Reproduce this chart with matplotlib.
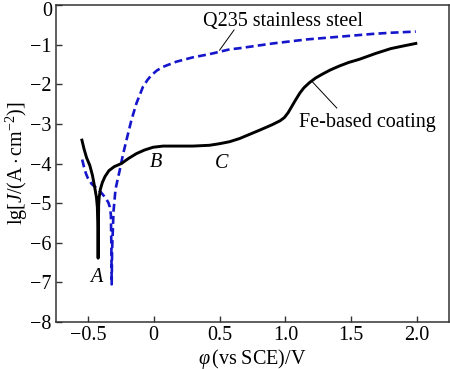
import matplotlib
matplotlib.use('Agg')
import matplotlib.pyplot as plt
from matplotlib.transforms import ScaledTranslation

plt.rcParams['font.family'] = ['Liberation Serif', 'DejaVu Serif']
plt.rcParams['mathtext.fontset'] = 'custom'
plt.rcParams['mathtext.rm'] = 'Liberation Serif'
plt.rcParams['mathtext.it'] = 'Liberation Serif:italic'

# Fe-based coating (potential V, lg J)
coat_x = [-0.545, -0.53, -0.51, -0.485, -0.465, -0.447, -0.435, -0.428, -0.424, -0.422,
          -0.420, -0.418, -0.414, -0.405, -0.39, -0.37, -0.34, -0.30, -0.245, -0.19,
          -0.131, -0.07, -0.005, 0.071, 0.18, 0.298, 0.424, 0.50, 0.576, 0.652,
          0.803, 0.90, 0.96, 0.992, 1.02, 1.05, 1.08, 1.11, 1.14, 1.182,
          1.23, 1.283, 1.34, 1.409, 1.48, 1.561, 1.687, 1.80, 1.90, 1.99]
coat_y = [-3.41, -3.62, -3.85, -4.05, -4.30, -4.62, -4.85, -5.10, -5.6, -6.39,
          -5.6, -5.05, -4.85, -4.65, -4.48, -4.33, -4.18, -4.08, -4.0, -3.87,
          -3.75, -3.66, -3.59, -3.56, -3.56, -3.56, -3.54, -3.50, -3.45, -3.37,
          -3.16, -3.02, -2.92, -2.84, -2.72, -2.55, -2.38, -2.22, -2.09, -1.96,
          -1.84, -1.74, -1.64, -1.54, -1.45, -1.37, -1.22, -1.10, -1.03, -0.97]

# Q235 stainless steel
q235_x = [-0.543, -0.53, -0.515, -0.50, -0.47, -0.434, -0.40, -0.37, -0.345, -0.333,
          -0.325, -0.321, -0.319, -0.316, -0.305, -0.29, -0.275, -0.258, -0.235, -0.207,
          -0.169, -0.131, -0.081, -0.045, -0.017, 0.025, 0.071, 0.172, 0.298, 0.424,
          0.50, 0.576, 0.652, 0.904, 1.157, 1.409, 1.66, 1.80, 1.99]
q235_y = [-3.90, -4.08, -4.25, -4.37, -4.52, -4.62, -4.73, -4.85, -4.98, -5.10,
          -5.30, -6.2, -7.05, -6.2, -5.2, -4.65, -4.42, -4.17, -3.80, -3.41,
          -2.90, -2.48, -2.06, -1.88, -1.77, -1.65, -1.56, -1.43, -1.32, -1.24,
          -1.18, -1.12, -1.09, -0.97, -0.87, -0.80, -0.73, -0.70, -0.67]

fig = plt.figure(figsize=(4.5, 3.69), dpi=100)
ax = fig.add_axes([0.1244, 0.1274, 0.8734, 0.859])

ax.plot(coat_x, coat_y, color='black', lw=2.1, zorder=3, solid_joinstyle='round')
ax.plot(q235_x, q235_y, color='#1515cc', lw=1.9, ls=(0, (3, 1.6)), zorder=2)

ax.set_xlim(-0.742, 2.242)
ax.set_ylim(-8, 0)
ax.set_xticks([-0.5, 0, 0.5, 1.0, 1.5, 2.0])
ax.set_xticklabels(['\u22120.5', '0', '0.5', '1.0', '1.5', '2.0'])
ax.set_yticks(range(-8, 1))
ax.tick_params(direction='in', length=4, width=1, labelsize=14.5, color='#333333',
               top=False, right=False, pad=3)
for s in ax.spines.values():
    s.set_color('#333333')
    s.set_linewidth(1.1)

# top "0" label sits a little lower so it is not clipped
top_lbl = ax.get_yticklabels()[-1]
top_lbl.set_transform(top_lbl.get_transform() + ScaledTranslation(0, -0.035, fig.dpi_scale_trans))

ax.set_xlabel(r'$\varphi\,\mathrm{(vs\ SCE)/V}$', fontsize=14.5, labelpad=1)
ax.set_ylabel(r'$\mathrm{lg}[J/(\mathrm{A\cdot cm}^{-2})]$', fontsize=14.5, labelpad=0)

# annotations
ax.text(0.371, -0.53, 'Q235 stainless steel', fontsize=14.5, ha='left', va='baseline')
ax.plot([0.61, 0.50], [-0.63, -1.14], color='black', lw=0.7)
ax.text(1.106, -3.08, 'Fe-based coating', fontsize=14.5, ha='left', va='baseline')
ax.plot([1.39, 1.205], [-2.6, -1.94], color='black', lw=0.7)

ax.text(-0.44, -6.87, 'A', fontsize=14.5, style='italic', ha='center', va='center')
ax.text(0.015, -3.98, 'B', fontsize=14.5, style='italic', ha='center', va='center')
ax.text(0.515, -3.99, 'C', fontsize=14.5, style='italic', ha='center', va='center')

fig.savefig('out.png', dpi=100)
